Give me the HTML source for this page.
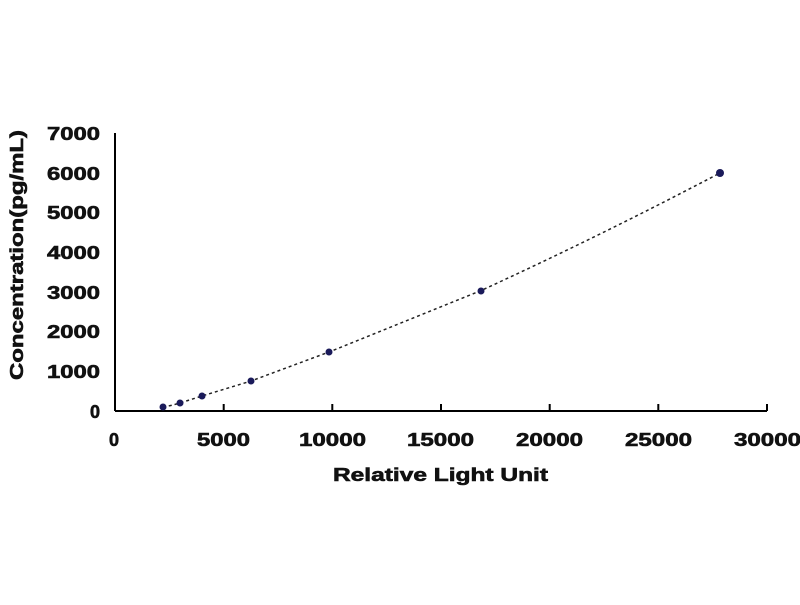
<!DOCTYPE html>
<html><head><style>body{margin:0;background:#fff}</style></head><body>
<svg width="800" height="600" xmlns="http://www.w3.org/2000/svg" font-family="Liberation Sans, Arial, sans-serif" font-weight="bold">
<rect width="800" height="600" fill="#fff"/>
<g stroke="#000" stroke-width="2" fill="none">
<line x1="115" y1="133" x2="115" y2="411"/>
<line x1="115" y1="411" x2="767" y2="411"/>
<line x1="223.7" y1="411" x2="223.7" y2="404"/>
<line x1="332.3" y1="411" x2="332.3" y2="404"/>
<line x1="441" y1="411" x2="441" y2="404"/>
<line x1="549.7" y1="411" x2="549.7" y2="404"/>
<line x1="658.3" y1="411" x2="658.3" y2="404"/>
<line x1="767" y1="411" x2="767" y2="404"/>
</g>
<g font-size="18" text-anchor="end" fill="#111" stroke="#111" stroke-width="0.6">
<text x="100" y="140" textLength="53" lengthAdjust="spacingAndGlyphs">7000</text>
<text x="100" y="180" textLength="53" lengthAdjust="spacingAndGlyphs">6000</text>
<text x="100" y="219" textLength="53" lengthAdjust="spacingAndGlyphs">5000</text>
<text x="100" y="259" textLength="53" lengthAdjust="spacingAndGlyphs">4000</text>
<text x="100" y="299" textLength="53" lengthAdjust="spacingAndGlyphs">3000</text>
<text x="100" y="338" textLength="53" lengthAdjust="spacingAndGlyphs">2000</text>
<text x="100" y="378" textLength="53" lengthAdjust="spacingAndGlyphs">1000</text>
<text x="100" y="418">0</text>
</g>
<g font-size="18" fill="#111" stroke="#111" stroke-width="0.6">
<text x="109" y="446">0</text>
<text x="197" y="446" textLength="53" lengthAdjust="spacingAndGlyphs">5000</text>
<text x="299" y="446" textLength="67" lengthAdjust="spacingAndGlyphs">10000</text>
<text x="407" y="446" textLength="67" lengthAdjust="spacingAndGlyphs">15000</text>
<text x="516" y="446" textLength="67" lengthAdjust="spacingAndGlyphs">20000</text>
<text x="625" y="446" textLength="67" lengthAdjust="spacingAndGlyphs">25000</text>
<text x="734" y="446" textLength="67" lengthAdjust="spacingAndGlyphs">30000</text>
<text x="333" y="481" textLength="215" lengthAdjust="spacingAndGlyphs">Relative Light Unit</text>
<text transform="translate(23,380) rotate(-90)" textLength="250" lengthAdjust="spacingAndGlyphs">Concentration(pg/mL)</text>
</g>
<path d="M163,407 Q170,406 180,403 L202,396 L251,381 L329,352 L480,291 Q600,236 720,173" fill="none" stroke="#222" stroke-width="1.5" stroke-dasharray="3,3"/>
<g fill="#1a1a5a">
<circle cx="163" cy="407" r="3.5"/><circle cx="180" cy="403" r="3.5"/><circle cx="202" cy="396" r="3.5"/>
<circle cx="251" cy="381" r="3.5"/><circle cx="329" cy="352" r="3.5"/><circle cx="481" cy="291" r="3.5"/><circle cx="720" cy="173" r="4"/>
</g>
</svg>
</body></html>
